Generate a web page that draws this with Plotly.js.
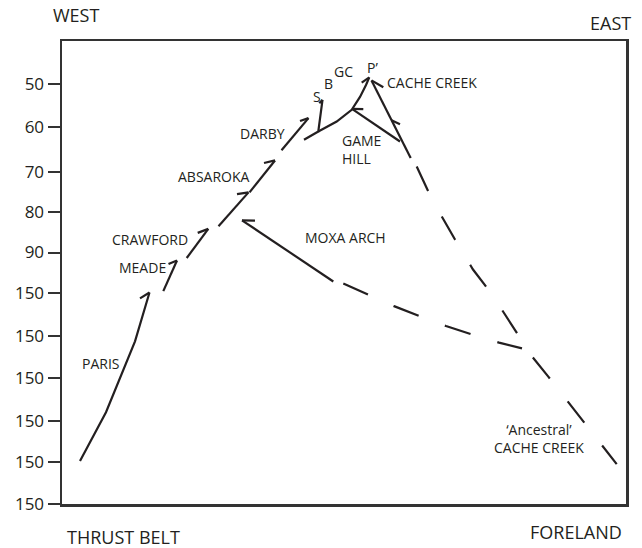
<!DOCTYPE html>
<html>
<head>
<meta charset="utf-8">
<script src="https://cdn.plot.ly/plotly-3.0.1.min.js"></script>
<style>html,body{margin:0;padding:0;background:#fff;}#chart{width:642px;height:548px;}</style>
</head>
<body>
<div id="chart"></div>
<script>
// Diagram units: x = distance from the west frame edge, y = depth offset from the "50" tick (downwards positive)
var tickVals = [0, 43, 88, 128, 169, 210, 253, 295, 338, 379, 421];
var tickText = ["50", "60", "70", "80", "90", "150", "150", "150", "150", "150", "150"];

// Solid thrust traces (x, y pairs), null separates pieces
var parisX = [18, 44, 73, 87.5, null, 78, 87.5];
var parisY = [378, 329, 258, 209, null, 215, 209];
var meadeX = [101.3, 115, null, 106.5, 115];
var meadeY = [207.7, 177, null, 180.5, 177];
var crawfordX = [124.7, 146.3, null, 135.7, 146.3];
var crawfordY = [174.5, 145.3, null, 149.3, 145.3];
var midX = [156.5, 186.5, null, 175, 186.5];
var midY = [142.7, 108.7, null, 110.5, 108.7];
var absarokaX = [187.5, 213, null, 202, 213];
var absarokaY = [108.7, 76.7, null, 79.3, 76.7];
var darbyX = [219.5, 246.5, null, 238, 246.5];
var darbyY = [66.5, 34.3, null, 37.2, 34.3];
var sX = [242, 256.3, 260.5, null, 257.3, 260.5];
var sY = [56, 47.7, 16, null, 19.3, 16];
var pX = [256.3, 274.7, 289.7, 298, 304, 307.3, null, 299.7, 307.3];
var pY = [47.7, 37.7, 26, 13, 1, -6.5, null, -1.3, -6.5];
var gameHillX = [338, 290, null, 301.3, 290];
var gameHillY = [57.7, 25, null, 25.3, 25];
var cacheX = [348.7, 309.5, null, 321.3, 309.5, null, 329.5, 338];
var cacheY = [74.3, -3.5, null, 3.3, -3.5, null, 36.5, 40.5];
var moxaX = [180, 271.3, null, 193, 180];
var moxaY = [136.7, 198, null, 137, 136.7];

// Dashed traces
var ancestralX = [354.7, 366.3, 379.7, 393, 411, 423.7, 439.7, 454, 469.7, 486.3, 504, 520.7, 538, 554.7];
var ancestralY = [82.7, 107.7, 132.7, 156, 186, 202.7, 226, 248.7, 272.7, 293.3, 316, 337.7, 359.3, 381];
var moxaDashX = [281.3, 306.3, 332, 357.3, 384, 409.7, 437, 460];
var moxaDashY = [200, 211, 222.7, 232.7, 242.7, 251, 259.3, 265];

// Labels inside the frame
var labelText = ["PARIS", "MEADE", "CRAWFORD", "ABSAROKA", "DARBY", "S", "B", "GC", "P\u2019", "CACHE CREEK", "GAME<br>HILL", "MOXA ARCH", "\u2018Ancestral\u2019<br>CACHE CREEK"];
var labelX = [39.3, 80, 87.5, 152, 200, 254.7, 266, 281, 310, 370, 278, 283.5, 476.5];
var labelY = [279.8, 183.7, 155.5, 93, 49.8, 12.7, -0.2, -12.3, -16.3, -1.2, 66, 153.5, 355];
var labelAlign = ["center", "center", "center", "center", "center", "center", "center", "center", "center", "center", "left", "center", "center"];

// Labels outside the frame (paper fractions)
var cornerText = ["WEST", "EAST", "THRUST BELT", "FORELAND"];
var cornerX = [0.024, 0.9734, 0.1099, 0.9113];
var cornerY = [1.0562, 1.0395, -0.0706, -0.0596];

var ink = "#231f20";
function solid(x, y) {
  return {x: x, y: y, type: "scatter", mode: "lines", line: {color: ink, width: 2.2}, hoverinfo: "skip", showlegend: false, connectgaps: false};
}
function dashed(x, y, pat) {
  return {x: x, y: y, type: "scatter", mode: "lines", line: {color: ink, width: 2.2, dash: pat}, hoverinfo: "skip", showlegend: false};
}

var data = [
  solid(parisX, parisY), solid(meadeX, meadeY), solid(crawfordX, crawfordY), solid(midX, midY),
  solid(absarokaX, absarokaY), solid(darbyX, darbyY), solid(sX, sY), solid(pX, pY),
  solid(gameHillX, gameHillY), solid(cacheX, cacheY), solid(moxaX, moxaY),
  dashed(ancestralX, ancestralY, "27px,29px"), dashed(moxaDashX, moxaDashY, "27px,28px")
];

var annotations = [];
for (var i = 0; i < labelText.length; i++) {
  annotations.push({x: labelX[i], y: labelY[i], xref: "x", yref: "y", text: labelText[i], showarrow: false,
    align: labelAlign[i], xanchor: labelAlign[i] === "left" ? "left" : "center", yanchor: "middle",
    font: {family: "Open Sans", size: 14, color: ink}});
}
for (var j = 0; j < cornerText.length; j++) {
  annotations.push({x: cornerX[j], y: cornerY[j], xref: "paper", yref: "paper", text: cornerText[j], showarrow: false,
    xanchor: "center", yanchor: "middle", font: {family: "Open Sans", size: 18, color: ink}});
}

var layout = {
  width: 642, height: 548,
  margin: {l: 62, r: 16, t: 41, b: 44, pad: 0},
  paper_bgcolor: "#fff", plot_bgcolor: "#fff",
  showlegend: false,
  xaxis: {range: [0, 564], showgrid: false, zeroline: false, showticklabels: false, ticks: "",
    showline: true, mirror: true, linecolor: "#333", linewidth: 2.5, fixedrange: true},
  yaxis: {range: [421, -43], showgrid: false, zeroline: false, tickmode: "array", tickvals: tickVals, ticktext: tickText,
    ticks: "outside", ticklen: 12, tickwidth: 2, tickcolor: "#333",
    showline: true, mirror: true, linecolor: "#333", linewidth: 2.5,
    tickfont: {family: "Open Sans", size: 17, color: ink}, fixedrange: true},
  annotations: annotations
};

Plotly.newPlot("chart", data, layout, {displayModeBar: false, staticPlot: true});
</script>
</body>
</html>
